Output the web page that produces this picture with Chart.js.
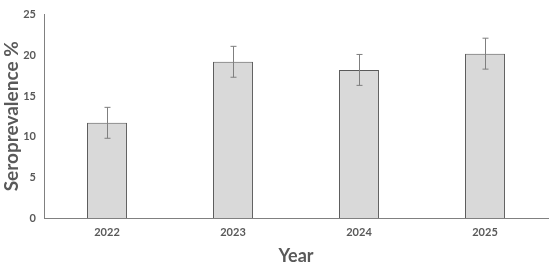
<!DOCTYPE html>
<html><head><meta charset="utf-8">
<script src="https://cdn.jsdelivr.net/npm/chart.js@4.4.0/dist/chart.umd.min.js"></script>
<style>html,body{margin:0;padding:0;background:#fff}#wrap{width:550px;height:263px;position:relative}</style>
</head><body><div id="wrap"><canvas id="c"></canvas></div>
<script>
const years = ['2022','2023','2024','2025'];
const seroprevalence = [11.7, 19.2, 18.2, 20.2];
const errLow = [9.8, 17.3, 16.3, 18.3];
const errHigh = [13.6, 21.1, 20.1, 22.1];
const yTicks = [0,5,10,15,20,25];

const errorBars = {
  id:'errorBars',
  afterDatasetsDraw(chart){
    const ctx = chart.ctx, x = chart.scales.x, y = chart.scales.y;
    ctx.save();
    ctx.strokeStyle = '#7f7f7f'; ctx.lineWidth = 1;
    years.forEach((yr,i)=>{
      const px = Math.round(x.getPixelForValue(i)) + 0.5;
      const top = y.getPixelForValue(errHigh[i]), bot = y.getPixelForValue(errLow[i]);
      ctx.beginPath();
      ctx.moveTo(px, top); ctx.lineTo(px, bot);
      ctx.moveTo(px-3, top); ctx.lineTo(px+3, top);
      ctx.moveTo(px-3, bot); ctx.lineTo(px+3, bot);
      ctx.stroke();
    });
    ctx.restore();
  }
};

new Chart(document.getElementById('c'), {
  type:'bar',
  data:{labels:years, datasets:[{data:seroprevalence, backgroundColor:'#d9d9d9', borderColor:'#595959', borderWidth:1, barPercentage:0.317, categoryPercentage:1}]},
  options:{
    responsive:true, maintainAspectRatio:false, animation:false,
    layout:{padding:{top:7,right:2,left:0,bottom:0}},
    plugins:{legend:{display:false}, tooltip:{enabled:false}},
    scales:{
      x:{
        grid:{display:false, drawTicks:false},
        border:{color:'#808080', width:1},
        ticks:{color:'#595959', font:{family:'Lato', weight:'bold', size:11}, padding:8},
        title:{display:true, text:'Year', color:'#595959', font:{family:'Lato', weight:'bold', size:18}, padding:{top:4,bottom:-4}},
        afterFit(s){ s.height = 45; }
      },
      y:{
        min:0, max:25,
        afterBuildTicks(s){ s.ticks = yTicks.map(v=>({value:v})); },
        grid:{display:false, drawTicks:false},
        border:{color:'#808080', width:1},
        ticks:{color:'#595959', font:{family:'Lato', weight:'bold', size:11}, padding:8},
        title:{display:true, text:'Seroprevalence %', color:'#595959', font:{family:'Lato', weight:'bold', size:19}, padding:{top:0,bottom:0}},
        afterFit(s){ s.width = 44; }
      }
    }
  },
  plugins:[errorBars]
});
</script></body></html>
